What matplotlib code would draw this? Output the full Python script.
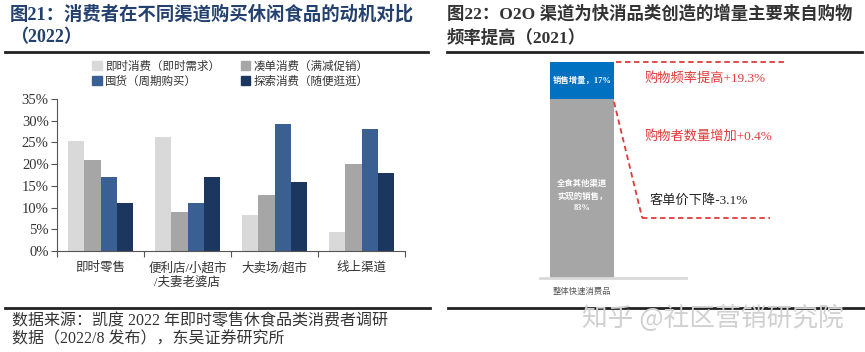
import matplotlib.pyplot as plt
import numpy as np
from matplotlib.lines import Line2D
from matplotlib.patches import Patch

plt.rcParams['font.family'] = ['Liberation Serif', 'Noto Sans CJK SC', 'DejaVu Sans']

# left chart data
channels = ['即时零售', '便利店/小超市\n/夫妻老婆店', '大卖场/超市', '线上渠道']
series = ['即时消费（即时需求）', '凑单消费（满减促销）', '囤货（周期购买）', '探索消费（随便逛逛）']
instant = [25.3, 26.3, 8.2, 4.3]
topup = [21, 9, 13, 20]
stock = [17, 11, 29.2, 28.2]
explore = [11, 17, 16, 18]
colors = ['#d9d9d9', '#a6a6a6', '#3a5f92', '#1b365f']

# right chart data
bar_label = '整体快速消费品'
other_share = 83
incr_share = 17
notes = ['购物频率提高+19.3%', '购物者数量增加+0.4%', '客单价下降-3.1%']

W, H = 865, 352
fig = plt.figure(figsize=(W / 100, H / 100), dpi=100)


def fx(px):
    return px / W


def fy(py):
    return 1 - py / H


# titles
fig.text(fx(10), fy(14), '图21：消费者在不同渠道购买休闲食品的动机对比', fontsize=13.2,
         fontweight='bold', color='#23406e', va='center', ha='left')
fig.text(fx(10), fy(38), '（2022）', fontsize=13, fontweight='bold', color='#23406e',
         va='center', ha='left')
fig.text(fx(447), fy(14), '图22：O2O 渠道为快消品类创造的增量主要来自购物', fontsize=12.5,
         fontweight='bold', color='#333333', va='center', ha='left')
fig.text(fx(447), fy(38), '频率提高（2021）', fontsize=12.5, fontweight='bold', color='#333333',
         va='center', ha='left')

for x0, x1, yy in [(5, 428, 52), (447, 862, 52), (5, 430, 308), (448, 865, 308)]:
    fig.add_artist(Line2D([fx(x0), fx(x1)], [fy(yy), fy(yy)], color='#222222', lw=2))

# source and watermark
fig.text(fx(12), fy(321), '数据来源：凯度 2022 年即时零售休食品类消费者调研', fontsize=11.5,
         color='#333333', va='center', ha='left')
fig.text(fx(12), fy(339), '数据（2022/8 发布），东吴证券研究所', fontsize=11.5,
         color='#333333', va='center', ha='left')
fig.text(fx(582), fy(318), '知乎 @社区营销研究院', fontsize=18.5, color='#d0d0d0',
         va='center', ha='left', family=['Noto Sans CJK SC'])

# left grouped bars
ax = fig.add_axes([fx(57), fy(251), fx(348), (251 - 99) / H])
x = np.arange(len(channels))
w = 0.185
for i, (vals, c) in enumerate(zip([instant, topup, stock, explore], colors)):
    ax.bar(x + (i - 1.5) * w, vals, w, color=c, zorder=2)
ax.set_xlim(-0.5, 3.5)
ax.set_ylim(0, 35)
ax.set_yticks(range(0, 36, 5))
ax.set_yticklabels([f'{v}%' for v in range(0, 36, 5)], fontsize=10.5, color='#333333')
ax.set_xticks(np.arange(-0.5, 4, 1))
ax.set_xticklabels([])
ax.set_xticks(x, minor=True)
ax.set_xticklabels(channels, minor=True, fontsize=9, color='#333333')
ax.tick_params(axis='x', which='minor', length=0, pad=8)
ax.tick_params(axis='x', which='major', length=4, color='#555555')
ax.tick_params(axis='y', length=4, color='#555555', pad=2)
for s in ['top', 'right']:
    ax.spines[s].set_visible(False)
for s in ['left', 'bottom']:
    ax.spines[s].set_color('#555555')

handles = [Patch(color=c) for c in colors]
order = [0, 2, 1, 3]
fig.legend([handles[i] for i in order], [series[i] for i in order], ncol=2,
           loc='center left', bbox_to_anchor=(fx(82), fy(74)), frameon=False,
           fontsize=8.3, handlelength=0.8, handleheight=0.8, handletextpad=0.3,
           columnspacing=1.8, labelspacing=0.25, labelcolor='#333333')

# right stacked bar
ax2 = fig.add_axes([fx(540), fy(278), fx(325), (278 - 62) / H])
ax2.set_xlim(-0.656, 4.42)
ax2.set_ylim(0, 100)
ax2.bar(0, other_share, 1, color='#a6a6a6')
ax2.bar(0, incr_share, 1, bottom=other_share, color='#0070c0')
ax2.text(0, other_share + incr_share / 2, f'销售增量，{incr_share}%', color='white',
         fontsize=6, ha='center', va='center', fontweight='bold')
ax2.text(0, 38, f'全食其他渠道\n实现的销售，\n{other_share}%', color='white',
         fontsize=6, ha='center', va='center', fontweight='bold', linespacing=1.6)
ax2.axis('off')
ax2.plot([-0.656, 1.63], [0, 0], color='#d9d9d9', lw=2, clip_on=False)
ax2.text(0, -6.5, bar_label, fontsize=6, color='#555555', ha='center', va='center')

red = '#e03a3a'
dash = dict(color=red, lw=1.3, ls=(0, (3, 2)), clip_on=False)
ax2.plot([0.53, 3.2], [100, 100], **dash)
ax2.plot([0.5, 0.94], [other_share - 1.5, 27.8], **dash)
ax2.plot([0.94, 2.94], [27.8, 27.8], **dash)
ax2.text(0.98, 92.6, notes[0], color=red, fontsize=9.5, ha='left', va='center')
ax2.text(0.98, 65.3, notes[1], color=red, fontsize=9.5, ha='left', va='center')
ax2.text(1.06, 36, notes[2], color='#222222', fontsize=9.5, ha='left', va='center')

fig.savefig('out.png', dpi=100)
